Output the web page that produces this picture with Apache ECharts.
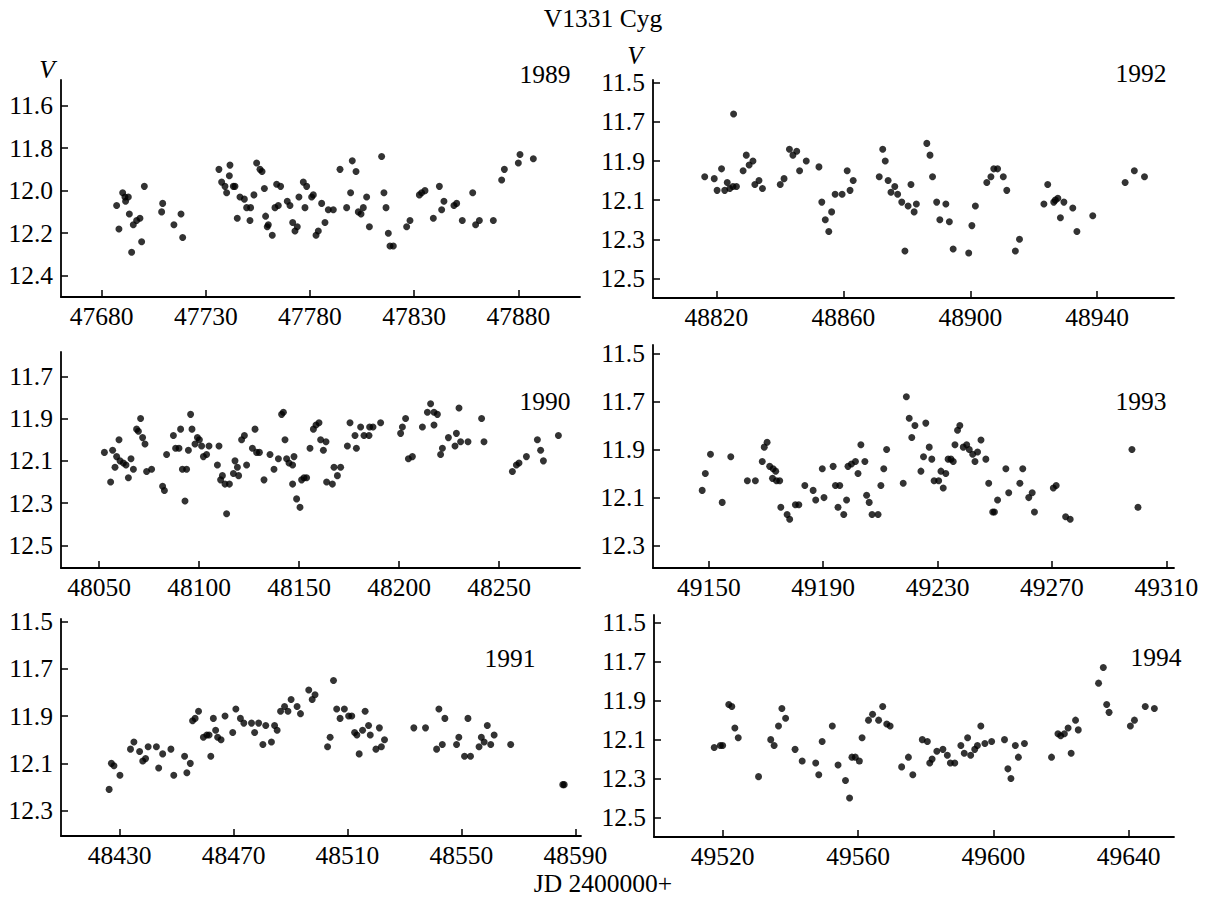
<!DOCTYPE html>
<html>
<head>
<meta charset="utf-8">
<title>V1331 Cyg</title>
<script src="https://cdn.jsdelivr.net/npm/echarts@6/dist/echarts.min.js"></script>
<style>
  html, body { margin: 0; padding: 0; background: #fff; }
  #chart { width: 1207px; height: 898px; }
</style>
</head>
<body>
<div id="chart"></div>
<script>
// V-band photometry of V1331 Cyg, one season per panel: [JD - 2400000, V]
const obs1989 = [[47687.2,12.07],[47688.3,12.18],[47690.1,12.01],[47691.2,12.03],[47692.8,12.03],[47691.5,12.05],[47693.3,12.11],[47694.4,12.29],[47695.2,12.16],[47696.8,12.14],[47698.4,12.13],[47699.2,12.24],[47700.5,11.98],[47708.8,12.10],[47709.3,12.06],[47714.7,12.16],[47718.1,12.11],[47718.9,12.22],
  [47736.3,11.90],[47737.6,11.96],[47739.2,11.98],[47741.6,11.88],[47741.3,11.93],[47740.0,12.01],[47743.2,11.98],[47744.0,11.98],[47745.1,12.13],[47746.4,12.03],[47748.5,12.04],[47749.6,12.08],[47751.5,12.08],[47751.2,12.14],[47753.1,12.02],[47754.4,11.87],[47756.0,11.90],[47757.0,11.91],[47758.1,11.99],[47758.7,12.12],[47760.0,12.16],[47759.5,12.17],[47761.9,12.21],[47763.2,12.08],[47764.8,12.07],[47764.0,11.97],[47765.9,11.98],[47769.1,12.05],[47770.4,12.07],[47771.7,12.15],[47772.8,12.19],[47773.9,12.17],[47774.7,12.03],[47776.8,11.96],[47778.4,11.98],[47777.6,12.08],[47780.8,12.03],[47781.6,12.02],[47782.9,12.21],[47784.0,12.19],[47785.6,12.06],[47787.2,12.15],[47788.8,12.09],
  [47791.2,12.09],[47794.4,11.90],[47797.6,12.08],[47799.5,12.01],[47800.3,11.86],[47802.1,11.91],[47803.2,12.10],[47804.5,12.11],[47805.6,12.08],[47807.2,12.03],[47808.5,12.17],[47814.4,11.84],[47815.5,12.01],[47816.5,12.08],[47817.6,12.20],[47818.4,12.26],[47820.0,12.26],[47826.4,12.17],[47828.0,12.14],[47832.5,12.02],[47833.6,12.01],[47835.2,12.00],[47839.2,12.13],[47842.1,11.98],[47843.2,12.09],[47844.3,12.05],[47849.1,12.07],[47850.4,12.06],[47853.1,12.14],[47858.1,12.01],[47859.5,12.16],[47861.3,12.14],[47868.0,12.14],[47872.0,11.95],[47873.3,11.90],[47880.0,11.87],[47880.8,11.83],[47887.2,11.85]];

const obs1990 = [[48052.7,12.06],[48055.8,12.20],[48056.8,12.05],[48058.0,12.13],[48058.8,12.08],[48060.0,12.00],[48060.5,12.10],[48062.2,12.11],[48063.5,12.12],[48064.7,12.18],[48066.0,12.09],[48067.2,12.14],[48068.8,11.95],[48069.7,11.96],[48070.8,11.90],[48071.8,11.99],[48073.0,12.02],[48073.8,12.15],[48076.3,12.14],[48081.8,12.22],[48082.7,12.24],[48083.8,12.07],[48087.2,11.98],[48088.3,12.04],[48090.0,12.04],[48090.8,11.95],[48091.7,12.14],[48093.0,12.29],[48093.8,12.14],[48094.7,12.05],[48095.8,11.88],[48096.5,11.95],[48098.0,12.02],[48099.2,11.99],[48100.2,12.00],[48101.3,12.03],[48102.2,12.08],[48103.8,12.07],[48105.0,12.03],[48109.2,12.12],[48110.0,12.03],[48110.8,12.19],[48111.7,12.17],[48113.0,12.21],[48113.8,12.35],[48115.2,12.21],[48117.2,12.16],[48118.0,12.10],[48119.2,12.13],[48119.8,12.17],[48121.3,12.00],[48122.7,11.98],[48123.8,12.12],[48126.7,12.04],[48128.0,11.95],[48128.8,12.06],[48130.2,12.06],[48132.5,12.19],[48135.5,12.07],[48137.5,12.14],[48139.7,12.09],[48141.3,11.88],[48142.2,11.87],[48143.0,12.00],[48143.8,12.09],[48145.0,12.11],[48146.8,12.12],[48147.5,12.08],[48146.8,12.21],[48148.8,12.28],[48150.5,12.32],[48151.3,12.19],[48152.5,12.18],[48153.8,12.18],[48155.5,12.04],[48157.2,11.95],[48158.5,11.93],[48160.0,11.92],[48160.8,12.00],[48162.2,12.05],[48163.5,12.01],[48163.8,12.20],
  [48166.7,12.21],[48167.5,12.13],[48169.2,12.17],[48170.8,12.13],[48174.2,12.03],[48175.5,11.92],[48178.0,11.98],[48178.7,12.04],[48180.8,11.94],[48182.5,11.98],[48185.0,11.98],[48185.3,11.94],[48187.0,11.94],[48190.8,11.92],[48200.8,11.97],[48201.7,11.94],[48203.3,11.90],[48204.7,12.09],[48206.7,12.08],[48211.7,11.94],[48214.2,11.87],[48215.8,11.83],[48217.5,11.87],[48219.2,11.88],[48217.5,11.93],[48220.8,12.07],[48221.7,12.04],[48224.7,11.99],[48228.0,12.03],[48228.7,11.97],[48230.0,11.85],[48230.8,12.01],[48234.5,12.01],[48241.3,11.90],[48242.5,12.01],[48256.7,12.15],[48258.7,12.12],[48260.0,12.11],[48263.7,12.08],[48269.2,12.00],[48270.8,12.05],[48272.2,12.10],[48279.7,11.98]];

const obs1991 = [[48426.3,12.21],[48427.1,12.10],[48428.0,12.11],[48430.1,12.15],[48433.8,12.04],[48435.0,12.01],[48437.0,12.05],[48438.1,12.09],[48439.1,12.08],[48440.0,12.03],[48442.9,12.03],[48443.7,12.12],[48445.1,12.06],[48448.0,12.04],[48449.0,12.15],[48452.8,12.07],[48453.6,12.14],[48454.8,12.10],[48455.6,11.92],[48456.5,11.91],[48457.7,11.88],[48459.4,11.99],[48460.6,11.98],[48461.4,11.98],[48462.0,12.07],[48462.9,11.91],[48463.7,11.96],[48464.4,11.99],[48465.6,12.00],[48467.0,11.90],[48469.7,11.97],[48470.8,11.87],[48472.4,11.91],[48473.6,11.93],[48476.3,11.93],[48477.4,11.97],[48478.8,11.93],[48480.3,12.02],[48481.3,11.94],[48483.3,12.01],[48484.4,11.94],[48485.3,11.96],[48486.5,11.88],[48487.9,11.86],[48489.1,11.88],[48490.2,11.83],[48492.3,11.86],[48493.5,11.89],[48496.4,11.79],[48497.6,11.83],[48498.6,11.81],
  [48503.0,12.03],[48503.9,11.99],[48505.1,11.75],[48506.2,11.87],[48507.4,11.91],[48508.9,11.87],[48510.4,11.90],[48511.5,11.90],[48512.5,11.97],[48513.3,11.98],[48514.1,12.06],[48515.3,11.96],[48516.2,11.88],[48517.4,11.94],[48518.0,11.98],[48520.0,12.04],[48521.2,11.95],[48521.9,12.03],[48523.0,12.00],[48533.3,11.95],[48537.4,11.95],[48541.3,12.04],[48542.1,11.87],[48543.3,12.02],[48544.2,11.91],[48548.3,12.02],[48549.1,11.99],[48551.1,12.07],[48552.3,11.91],[48553.2,12.07],[48556.2,12.03],[48557.0,11.99],[48558.0,12.01],[48559.1,11.94],[48560.3,12.02],[48561.5,11.98],[48567.3,12.02],[48585.6,12.19],[48586.1,12.19]];

const obs1992 = [[48816.3,11.98],[48819.3,11.99],[48820.2,12.05],[48821.6,11.94],[48822.6,12.05],[48823.4,12.01],[48824.2,12.04],[48825.4,11.66],[48825.2,12.03],[48826.3,12.03],[48828.4,11.95],[48829.4,11.87],[48830.3,11.92],[48831.5,11.90],[48832.1,12.02],[48833.4,12.00],[48834.5,12.04],[48840.1,12.02],[48841.3,11.99],[48843.0,11.84],[48844.1,11.87],[48845.3,11.85],[48846.2,11.95],[48848.3,11.90],[48852.3,11.93],[48853.2,12.11],[48854.3,12.20],[48855.4,12.26],[48856.3,12.16],[48857.4,12.07],[48859.6,12.07],[48861.2,11.95],[48862.1,12.05],[48863.1,12.00],[48871.3,11.98],[48872.4,11.84],[48873.2,11.90],[48874.1,12.00],[48875.0,12.06],[48876.2,12.03],[48877.1,12.07],[48878.4,12.11],[48880.4,12.13],[48879.4,12.36],[48881.3,12.02],[48882.3,12.16],[48883.0,12.12],[48886.3,11.81],[48887.3,11.87],[48888.1,11.98],[48889.4,12.11],[48890.4,12.20],[48892.3,12.12],[48893.4,12.21],[48894.6,12.35],[48899.5,12.37],[48900.5,12.23],[48901.6,12.13],[48905.2,12.01],[48906.5,11.98],[48907.4,11.94],[48908.6,11.94],[48910.4,11.98],[48911.5,12.05],[48914.2,12.36],[48915.5,12.30],[48923.2,12.12],[48924.4,12.02],[48926.3,12.11],[48926.8,12.10],[48927.6,12.09],[48928.4,12.19],[48929.5,12.11],[48932.3,12.14],[48933.6,12.26],[48938.6,12.18],[48948.8,12.01],[48951.7,11.95],[48954.9,11.98]];

const obs1993 = [[49147.7,12.07],[49148.8,12.00],[49150.6,11.92],[49154.7,12.12],[49157.7,11.93],[49163.5,12.03],[49166.3,12.03],[49168.7,11.95],[49169.4,11.89],[49170.4,11.87],[49171.3,11.97],[49172.5,11.98],[49173.4,11.99],[49172.3,12.02],[49173.7,12.03],[49174.8,12.03],[49175.2,12.14],[49177.4,12.17],[49178.3,12.19],[49180.3,12.13],[49181.5,12.13],[49183.6,12.05],[49186.5,12.07],[49187.4,12.11],[49189.7,11.98],[49190.3,12.10],[49193.5,11.97],[49194.3,12.05],[49195.8,12.05],[49195.2,12.14],[49197.2,12.17],[49198.2,12.11],[49198.7,11.97],[49199.9,11.96],[49201.3,11.95],[49202.2,12.00],[49203.2,11.88],[49204.6,11.95],[49205.2,12.09],[49206.1,12.12],[49207.1,12.17],[49209.2,12.17],[49210.2,12.05],[49211.2,11.98],[49212.2,11.90],
  [49218.0,12.04],[49219.1,11.68],[49220.1,11.77],[49221.0,11.85],[49222.1,11.80],[49224.2,11.99],[49225.1,11.93],[49225.9,11.79],[49227.1,11.89],[49228.0,11.94],[49228.8,12.03],[49230.4,12.03],[49231.2,11.99],[49232.0,12.06],[49232.9,12.00],[49233.7,11.94],[49234.7,11.94],[49235.5,11.95],[49236.1,11.88],[49237.0,11.82],[49237.8,11.80],[49239.0,11.89],[49240.2,11.88],[49241.1,11.90],[49242.3,11.92],[49243.1,11.95],[49244.0,11.91],[49245.2,11.86],[49246.9,11.94],[49247.9,12.04],[49249.3,12.16],[49249.9,12.16],[49251.0,12.11],[49253.9,11.98],[49254.9,12.08],[49258.8,12.04],[49259.8,11.98],[49261.9,12.10],[49263.1,12.08],[49263.9,12.16],[49270.5,12.06],[49271.5,12.05],[49274.8,12.18],[49276.4,12.19],[49298.0,11.90],[49300.1,12.14]];

const obs1994 = [[49517.5,12.14],[49519.3,12.13],[49520.0,12.13],[49521.8,11.92],[49522.7,11.93],[49523.6,12.04],[49524.6,12.09],[49530.6,12.29],[49534.2,12.10],[49535.2,12.13],[49536.5,12.03],[49537.5,11.94],[49538.6,11.99],[49541.4,12.15],[49543.5,12.21],[49547.5,12.22],[49548.4,12.28],[49549.4,12.11],[49552.4,12.03],[49554.1,12.23],[49556.3,12.31],[49557.5,12.40],[49558.2,12.19],[49559.2,12.19],[49560.4,12.21],[49561.2,12.09],[49563.1,12.00],[49564.3,11.97],[49566.1,12.00],[49567.3,11.93],[49568.5,12.02],[49569.5,12.03],
  [49572.9,12.24],[49574.9,12.19],[49576.2,12.28],[49579.0,12.10],[49580.5,12.11],[49581.2,12.22],[49581.9,12.20],[49583.3,12.16],[49585.1,12.15],[49586.4,12.18],[49587.3,12.22],[49588.6,12.22],[49590.4,12.13],[49591.4,12.17],[49592.4,12.09],[49593.3,12.18],[49594.5,12.15],[49595.3,12.13],[49596.3,12.03],[49597.5,12.12],[49599.5,12.11],[49603.3,12.10],[49604.3,12.25],[49605.2,12.30],[49606.5,12.13],[49607.4,12.19],[49609.2,12.12],[49617.2,12.19],[49619.1,12.07],[49619.9,12.08],[49621.0,12.07],[49622.1,12.04],[49623.0,12.17],[49624.3,12.00],[49625.1,12.05],[49631.1,11.81],[49632.5,11.73],[49633.5,11.92],[49634.2,11.96],[49640.5,12.03],[49641.7,12.00],[49644.9,11.93],[49647.6,11.94]];

// Tick values for each panel
const xTicks1989 = [47680, 47730, 47780, 47830, 47880];
const xTicks1990 = [48050, 48100, 48150, 48200, 48250];
const xTicks1991 = [48430, 48470, 48510, 48550, 48590];
const xTicks1992 = [48820, 48860, 48900, 48940];
const xTicks1993 = [49150, 49190, 49230, 49270, 49310];
const xTicks1994 = [49520, 49560, 49600, 49640];
const yTicks1989 = [11.6, 11.8, 12.0, 12.2, 12.4];
const yTicks1990 = [11.7, 11.9, 12.1, 12.3, 12.5];
const yTicks1991 = [11.5, 11.7, 11.9, 12.1, 12.3];
const yTicks1992 = [11.5, 11.7, 11.9, 12.1, 12.3, 12.5];
const yTicks1993 = [11.5, 11.7, 11.9, 12.1, 12.3];
const yTicks1994 = [11.5, 11.7, 11.9, 12.1, 12.3, 12.5];

const SERIF = '"Liberation Serif", "Times New Roman", serif';
const FS = 25.5;

// Panel frames (pixels) and axis ranges
const panels = [
  { season: '1989', obs: obs1989, xt: xTicks1989, yt: yTicks1989, grid: { left: 61,  top: 80,  width: 519, height: 217 }, x: [47660.5, 47909.6], y: [11.48, 12.50],  tag: [545, 74] },
  { season: '1992', obs: obs1992, xt: xTicks1992, yt: yTicks1992, grid: { left: 653, top: 80,  width: 521, height: 218 }, x: [48800, 48964.2],   y: [11.486, 12.60], tag: [1141, 73] },
  { season: '1990', obs: obs1990, xt: xTicks1990, yt: yTicks1990, grid: { left: 61,  top: 352, width: 519, height: 216 }, x: [48031, 48290.5],   y: [11.585, 12.607], tag: [545, 401] },
  { season: '1993', obs: obs1993, xt: xTicks1993, yt: yTicks1993, grid: { left: 653, top: 345, width: 521, height: 223 }, x: [49130.5, 49312.7], y: [11.465, 12.393], tag: [1141, 401] },
  { season: '1991', obs: obs1991, xt: xTicks1991, yt: yTicks1991, grid: { left: 61,  top: 619, width: 520, height: 217 }, x: [48409.4, 48592],   y: [11.49, 12.407], tag: [510, 658] },
  { season: '1994', obs: obs1994, xt: xTicks1994, yt: yTicks1994, grid: { left: 654, top: 615, width: 520, height: 222 }, x: [49499.7, 49653.4], y: [11.46, 12.60],  tag: [1156, 657] }
];

const axisLine = { onZero: false, lineStyle: { color: '#000', width: 1.8 } };
const tickStyle = { color: '#000', width: 1.5 };

const grids = [], xAxes = [], yAxes = [], series = [], texts = [];

panels.forEach((p, i) => {
  grids.push(Object.assign({ containLabel: false }, p.grid));
  xAxes.push({
    type: 'value', gridIndex: i, min: p.x[0], max: p.x[1],
    axisLine: axisLine,
    axisTick: { inside: true, length: 7, customValues: p.xt, lineStyle: tickStyle },
    axisLabel: { customValues: p.xt, margin: 6, color: '#000', fontFamily: SERIF, fontSize: FS,
                 formatter: v => String(Math.round(v)) },
    splitLine: { show: false }
  });
  yAxes.push({
    type: 'value', gridIndex: i, inverse: true, min: p.y[0], max: p.y[1],
    axisLine: axisLine,
    axisTick: { inside: true, length: 7, customValues: p.yt, lineStyle: tickStyle },
    axisLabel: { customValues: p.yt, margin: 8, color: '#000', fontFamily: SERIF, fontSize: FS,
                 formatter: v => v.toFixed(1) },
    splitLine: { show: false }
  });
  series.push({
    type: 'scatter', name: p.season, xAxisIndex: i, yAxisIndex: i,
    data: p.obs, symbol: 'circle', symbolSize: 7,
    itemStyle: { color: '#000' }, silent: true
  });
  texts.push({
    type: 'text', x: p.tag[0], y: p.tag[1],
    style: { text: p.season, font: FS + 'px ' + SERIF, fill: '#000', align: 'center', verticalAlign: 'middle' }
  });
});

// Figure title and axis captions
texts.push(
  { type: 'text', x: 603, y: 18,  style: { text: 'V1331 Cyg',   font: FS + 'px ' + SERIF, fill: '#000', align: 'center', verticalAlign: 'middle' } },
  { type: 'text', x: 603, y: 883, style: { text: 'JD 2400000+', font: FS + 'px ' + SERIF, fill: '#000', align: 'center', verticalAlign: 'middle' } },
  { type: 'text', x: 47,  y: 69,  style: { text: 'V', font: 'italic ' + FS + 'px ' + SERIF, fill: '#000', align: 'center', verticalAlign: 'middle' } },
  { type: 'text', x: 635, y: 55,  style: { text: 'V', font: 'italic ' + FS + 'px ' + SERIF, fill: '#000', align: 'center', verticalAlign: 'middle' } }
);

const chart = echarts.init(document.getElementById('chart'), null, { renderer: 'svg', width: 1207, height: 898 });
chart.setOption({
  backgroundColor: '#fff',
  animation: false,
  grid: grids,
  xAxis: xAxes,
  yAxis: yAxes,
  series: series,
  graphic: texts
});
</script>
</body>
</html>
